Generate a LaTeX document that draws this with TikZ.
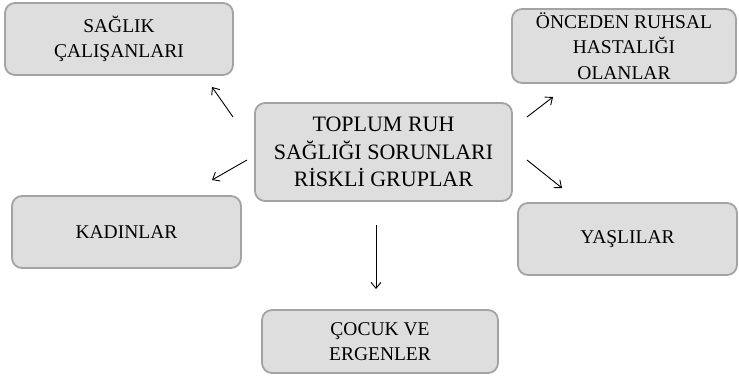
\documentclass[tikz,border=0pt]{standalone}
\usepackage{fontspec}
\setmainfont{Liberation Serif}
\usetikzlibrary{arrows.meta}
\definecolor{boxfill}{HTML}{DEDEDE}
\definecolor{boxline}{HTML}{A3A3A3}
\tikzset{
  grpbox/.style={draw=boxline, line width=1.8pt, fill=boxfill, rounded corners=10pt,
    align=center, inner sep=0pt, font=\fontsize{19.5}{25.5}\selectfont},
  mainbox/.style={grpbox, font=\fontsize{22}{27.5}\selectfont},
  link/.style={line width=0.9pt, -{Straight Barb[length=6pt,width=10pt,line width=0.9pt]}}
}
\begin{document}
\begin{tikzpicture}[x=1pt,y=-1pt]
\useasboundingbox (0,0) rectangle (739,385);
\node[grpbox, minimum width=228pt, minimum height=72pt] (sag) at (119,39) {SAĞLIK\\ÇALIŞANLARI};
\node[grpbox, minimum width=224pt, minimum height=74pt] (onc) at (624,46) {ÖNCEDEN RUHSAL\\HASTALIĞI\\OLANLAR};
\node[mainbox, minimum width=257pt, minimum height=98pt] (cen) at (383.5,152) {TOPLUM RUH\\SAĞLIĞI SORUNLARI\\RİSKLİ GRUPLAR};
\node[grpbox, minimum width=229pt, minimum height=72pt] (kad) at (126.5,232) {KADINLAR};
\node[grpbox, minimum width=219pt, minimum height=72pt] (yas) at (627.5,239) {YAŞLILAR};
\node[grpbox, minimum width=236pt, minimum height=63pt] (coc) at (380,341.5) {ÇOCUK VE\\ERGENLER};
\coordinate (a1s) at (233,117); \coordinate (a1e) at (212,87);
\coordinate (a2s) at (527,117); \coordinate (a2e) at (553,97);
\coordinate (a3s) at (247,160); \coordinate (a3e) at (212,180);
\coordinate (a4s) at (527,160); \coordinate (a4e) at (562,188);
\coordinate (a5s) at (376,225); \coordinate (a5e) at (376,289);
\draw[link] (a1s) -- (a1e);
\draw[link] (a2s) -- (a2e);
\draw[link] (a3s) -- (a3e);
\draw[link] (a4s) -- (a4e);
\draw[link] (a5s) -- (a5e);
\end{tikzpicture}
\end{document}
